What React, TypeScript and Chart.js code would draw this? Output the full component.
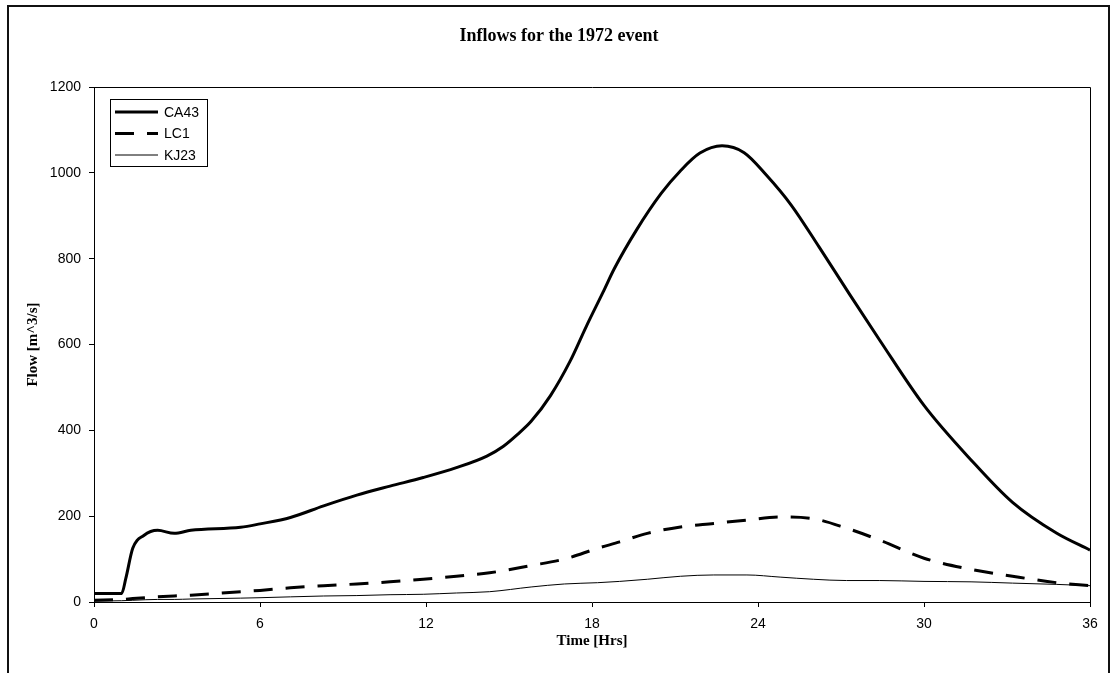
import React, { useEffect, useRef } from "react";
import { Chart, registerables } from "chart.js";

Chart.register(...registerables);

const TITLE = "Inflows for the 1972 event";
const X_TITLE = "Time [Hrs]";
const Y_TITLE = "Flow [m^3/s]";

const ca43Time = [
  0, 1.0, 1.15, 1.4, 1.8, 2.3, 2.9, 3.5, 5.3, 6.0, 7.1, 8.3, 9.5, 10.7, 11.9, 13.1, 14.2, 14.8, 15.3,
  15.8, 16.5, 17.2, 17.8, 18.4, 18.8, 19.6, 20.5, 21.2, 21.9, 22.7, 23.5, 24.3, 25.2, 26.2, 27.3,
  28.4, 30.0, 31.7, 33.2, 34.8, 36.0,
];
const ca43 = [
  20, 20, 55, 125, 155, 167, 160, 167, 174, 182, 197, 224, 249, 270, 290, 313, 340, 363, 390,
  421, 481, 560, 643, 722, 776, 866, 952, 1005, 1046, 1063, 1047, 995, 925, 828, 718,
  610, 458, 331, 232, 160, 121,
];
const lowTime = [
  0, 1.0, 1.4, 2.3, 2.9, 3.5, 5.3, 6.0, 7.1, 8.3, 9.5, 10.7, 11.9, 13.1, 14.3, 15.8, 17.0,
  18.2, 19.0, 20.0, 21.2, 22.4, 23.6, 24.8, 26.0, 27.2, 28.4, 30.0, 31.7, 33.2, 34.8, 36.0,
];
const lc1 = [
  4, 6, 8, 12, 14, 16, 24, 27, 33, 38, 42, 47, 53, 60, 68, 85, 100,
  125, 140, 160, 175, 183, 191, 198, 194, 172, 144, 102, 76, 60, 45, 38,
];
const kj23 = [
  2, 3, 4, 6, 6, 7, 9, 10, 12, 14, 15, 17, 18, 21, 24, 35, 42,
  45, 48, 53, 60, 63, 63, 58, 53, 50, 50, 48, 47, 44, 41, 38,
];
const seriesNames = ["CA43", "LC1", "KJ23"];
const xTicks = [0, 6, 12, 18, 24, 30, 36];
const yTicks = [0, 200, 400, 600, 800, 1000, 1200];

const SANS = "'Liberation Sans', Arial, sans-serif";
const SERIF = "'Liberation Serif', 'Times New Roman', serif";

const framePlugin = {
  id: "frame",
  beforeDraw(chart: any) {
    const ctx = chart.ctx;
    ctx.save();
    ctx.fillStyle = "#ffffff";
    ctx.fillRect(0, 0, chart.width, chart.height);
    ctx.strokeStyle = "#111111";
    ctx.lineWidth = 2;
    ctx.beginPath();
    ctx.moveTo(8, chart.height + 2);
    ctx.lineTo(8, 6);
    ctx.lineTo(1109, 6);
    ctx.lineTo(1109, chart.height + 2);
    ctx.stroke();
    ctx.restore();
  },
  afterDraw(chart: any) {
    const ctx = chart.ctx;
    const a = chart.chartArea;
    ctx.save();
    ctx.strokeStyle = "#000000";
    ctx.lineWidth = 1;
    ctx.beginPath();
    ctx.moveTo(Math.round(a.left) + 0.5, Math.round(a.top) + 0.5);
    ctx.lineTo(Math.round(a.right) + 0.5, Math.round(a.top) + 0.5);
    ctx.lineTo(Math.round(a.right) + 0.5, Math.round(a.bottom) + 0.5);
    ctx.stroke();

    // legend box inside the plot area
    const bx = Math.round(a.left) + 16.5;
    const by = Math.round(a.top) + 12.5;
    const bw = 97;
    const bh = 67;
    ctx.lineWidth = 1;
    ctx.strokeStyle = "#000000";
    ctx.strokeRect(bx, by, bw, bh);
    ctx.font = "14px " + SANS;
    ctx.textBaseline = "middle";
    ctx.textAlign = "left";
    ctx.fillStyle = "#000000";
    chart.data.datasets.forEach((ds: any, i: number) => {
      const y = by + 12.5 + i * 21.5;
      ctx.save();
      ctx.strokeStyle = ds.borderColor;
      ctx.lineWidth = ds.borderWidth;
      ctx.setLineDash(ds.borderDash || []);
      ctx.beginPath();
      ctx.moveTo(bx + 4.5, y);
      ctx.lineTo(bx + 47.5, y);
      ctx.stroke();
      ctx.restore();
      ctx.fillText(ds.label, bx + 53.5, y + 1);
    });
    ctx.restore();
  },
};

export default function App() {
  const ref = useRef<HTMLCanvasElement | null>(null);
  useEffect(() => {
    if (!ref.current) return;
    const mk = (ts: number[], vals: number[]) => ts.map((t, i) => ({ x: t, y: vals[i] }));
    const chart = new Chart(ref.current, {
      type: "line",
      data: {
        datasets: [
          {
            label: seriesNames[0],
            data: mk(ca43Time, ca43),
            borderColor: "#000000",
            borderWidth: 3,
            pointRadius: 0,
            cubicInterpolationMode: "monotone",
          },
          {
            label: seriesNames[1],
            data: mk(lowTime, lc1),
            borderColor: "#000000",
            borderWidth: 3,
            borderDash: [19, 13],
            pointRadius: 0,
            cubicInterpolationMode: "monotone",
          },
          {
            label: seriesNames[2],
            data: mk(lowTime, kj23),
            borderColor: "#000000",
            borderWidth: 1,
            pointRadius: 0,
            cubicInterpolationMode: "monotone",
          },
        ],
      },
      plugins: [framePlugin],
      options: {
        animation: false,
        responsive: false,
        layout: { padding: { left: 28, right: 23, top: 0, bottom: 0 } },
        plugins: {
          legend: { display: false },
          tooltip: { enabled: false },
          title: {
            display: true,
            text: TITLE,
            color: "#000000",
            font: { family: SERIF, size: 18, weight: "bold" },
            padding: { top: 26, bottom: 39.4 },
          },
        },
        scales: {
          x: {
            type: "linear",
            min: 0,
            max: 36,
            afterBuildTicks: (s: any) => {
              s.ticks = xTicks.map((v) => ({ value: v }));
            },
            afterFit: (s: any) => {
              s.height = 71;
            },
            grid: { drawOnChartArea: false, drawTicks: true, tickLength: 5, color: "#000000" },
            border: { display: true, color: "#000000", width: 1 },
            ticks: {
              color: "#000000",
              font: { family: SANS, size: 14 },
              padding: 9,
              maxRotation: 0,
              autoSkip: false,
              callback: (v: any) => String(v),
            },
            title: {
              display: true,
              text: X_TITLE,
              color: "#000000",
              font: { family: SERIF, size: 15, weight: "bold" },
              padding: { top: 0, bottom: 23 },
            },
          },
          y: {
            type: "linear",
            min: 0,
            max: 1200,
            afterBuildTicks: (s: any) => {
              s.ticks = yTicks.map((v) => ({ value: v }));
            },
            afterFit: (s: any) => {
              s.width = 66;
            },
            grid: { drawOnChartArea: false, drawTicks: true, tickLength: 5, color: "#000000" },
            border: { display: true, color: "#000000", width: 1 },
            ticks: {
              color: "#000000",
              font: { family: SANS, size: 14 },
              padding: 8,
              autoSkip: false,
              callback: (v: any) => String(v),
            },
            title: {
              display: true,
              text: Y_TITLE,
              color: "#000000",
              font: { family: SERIF, size: 15, weight: "bold" },
              padding: { top: -4, bottom: 0 },
            },
          },
        },
      },
    } as any);
    return () => chart.destroy();
  }, []);
  return (
    <div style={{ position: "fixed", left: 0, top: 0, width: 1113, height: 673, background: "#fff" }}>
      <canvas ref={ref} width={1113} height={673} style={{ display: "block", width: 1113, height: 673 }} />
    </div>
  );
}
